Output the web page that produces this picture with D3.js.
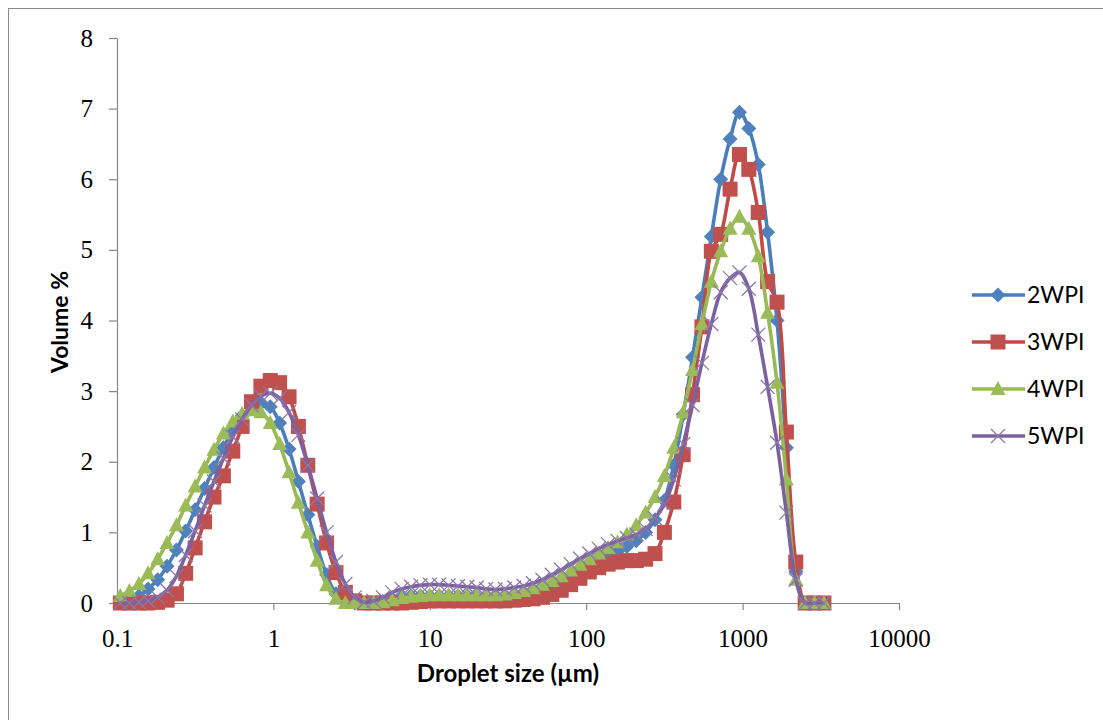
<!DOCTYPE html>
<html>
<head>
<meta charset="utf-8">
<script src="https://cdn.jsdelivr.net/npm/d3@7"></script>
<style>
  body { margin: 0; background: #ffffff; }
  svg { display: block; }
</style>
</head>
<body>
<div id="vis"></div>
<script>
// droplet size classes (µm)
const sizes = [0.105, 0.120, 0.138, 0.158, 0.182, 0.209, 0.240, 0.275, 0.316, 0.363, 0.417, 0.479, 0.550, 0.631, 0.724, 0.832, 0.955,
  1.096, 1.259, 1.445, 1.660, 1.905, 2.188, 2.512, 2.884, 3.311, 3.802, 4.365, 5.012, 5.754, 6.607, 7.586, 8.710, 10.00,
  11.48, 13.18, 15.14, 17.38, 19.95, 22.91, 26.30, 30.20, 34.67, 39.81, 45.71, 52.48, 60.26, 69.18, 79.43, 91.20, 104.7,
  120.2, 138.0, 158.5, 182.0, 208.9, 239.9, 275.4, 316.2, 363.1, 416.9, 478.6, 549.5, 631.0, 724.4, 831.8, 955.0,
  1096, 1259, 1445, 1660, 1905, 2188, 2512, 2884, 3311];

const wpi2 = [0.02, 0.05, 0.10, 0.20, 0.33, 0.52, 0.75, 1.02, 1.32, 1.62, 1.92, 2.20, 2.45, 2.65, 2.78, 2.83, 2.78,
  2.55, 2.18, 1.72, 1.25, 0.80, 0.40, 0.13, 0.02, 0, 0, 0, 0.02, 0.05, 0.08, 0.10, 0.10, 0.10,
  0.10, 0.10, 0.10, 0.10, 0.10, 0.10, 0.10, 0.10, 0.11, 0.13, 0.16, 0.20, 0.25, 0.31, 0.38, 0.45, 0.53,
  0.60, 0.67, 0.73, 0.80, 0.88, 1.00, 1.18, 1.45, 1.95, 2.67, 3.48, 4.33, 5.19, 6.00, 6.57, 6.95,
  6.72, 6.21, 5.25, 4.00, 2.20, 0.45, 0, 0, 0];

const wpi3 = [0, 0, 0, 0, 0.01, 0.04, 0.13, 0.42, 0.78, 1.15, 1.50, 1.80, 2.15, 2.50, 2.85, 3.07, 3.15,
  3.12, 2.92, 2.50, 1.95, 1.40, 0.85, 0.43, 0.15, 0.03, 0, 0, 0, 0, 0, 0.01, 0.02, 0.03,
  0.03, 0.03, 0.03, 0.03, 0.03, 0.03, 0.03, 0.03, 0.04, 0.05, 0.06, 0.08, 0.12, 0.18, 0.26, 0.35, 0.44,
  0.50, 0.55, 0.58, 0.60, 0.60, 0.62, 0.70, 1.00, 1.43, 2.10, 2.95, 3.91, 4.98, 5.22, 5.86, 6.35,
  6.14, 5.53, 4.55, 4.26, 2.42, 0.58, 0, 0, 0];

const wpi4 = [0.10, 0.17, 0.27, 0.42, 0.62, 0.85, 1.10, 1.38, 1.65, 1.92, 2.17, 2.40, 2.57, 2.68, 2.73, 2.70, 2.55,
  2.25, 1.85, 1.42, 1.00, 0.60, 0.25, 0.06, 0, 0, 0, 0, 0.01, 0.04, 0.07, 0.09, 0.10, 0.11,
  0.11, 0.11, 0.11, 0.11, 0.11, 0.11, 0.11, 0.12, 0.14, 0.17, 0.21, 0.26, 0.31, 0.38, 0.46, 0.54, 0.62,
  0.70, 0.78, 0.86, 0.97, 1.10, 1.28, 1.50, 1.80, 2.20, 2.70, 3.30, 3.95, 4.55, 4.98, 5.30, 5.47,
  5.30, 4.91, 4.11, 3.12, 1.75, 0.33, 0, 0, 0];

const wpi5 = [0, 0, 0.01, 0.03, 0.08, 0.18, 0.38, 0.68, 1.02, 1.38, 1.72, 2.05, 2.35, 2.60, 2.80, 2.93, 2.97,
  2.90, 2.70, 2.38, 1.95, 1.48, 1.00, 0.58, 0.27, 0.08, 0.01, 0.03, 0.08, 0.15, 0.20, 0.23, 0.25, 0.26,
  0.26, 0.25, 0.24, 0.23, 0.22, 0.20, 0.19, 0.20, 0.22, 0.24, 0.28, 0.33, 0.40, 0.47, 0.55, 0.63, 0.70,
  0.77, 0.83, 0.88, 0.92, 0.97, 1.05, 1.20, 1.40, 1.75, 2.25, 2.80, 3.40, 3.95, 4.40, 4.60, 4.68,
  4.45, 3.80, 3.06, 2.27, 1.28, 0.33, 0, 0, 0];

const seriesNames = ["2WPI", "3WPI", "4WPI", "5WPI"];
const xTicks = [0.1, 1, 10, 100, 1000, 10000];
const xTickLabels = ["0.1", "1", "10", "100", "1000", "10000"];
const yTicks = [0, 1, 2, 3, 4, 5, 6, 7, 8];

const series = [
  { name: seriesNames[0], values: wpi2, line: "#4A7EBB", fill: "#4F81BD", marker: "diamond" },
  { name: seriesNames[1], values: wpi3, line: "#BE4B48", fill: "#C0504D", marker: "square" },
  { name: seriesNames[2], values: wpi4, line: "#98B954", fill: "#9BBB59", marker: "triangle" },
  { name: seriesNames[3], values: wpi5, line: "#7D60A0", fill: "#8064A2", marker: "cross" }
];

const svg = d3.select("#vis").append("svg").attr("width", 1103).attr("height", 720);

// outer chart border
svg.append("rect")
  .attr("x", 8.5).attr("y", 8.5)
  .attr("width", 1110).attr("height", 730)
  .attr("fill", "#fff").attr("stroke", "#8a8a8a");

const x = d3.scaleLog().domain([0.1, 10000]).range([117, 899]);
const y = d3.scaleLinear().domain([0, 8]).range([603, 38]);

const tickFont = "'Liberation Serif', 'Times New Roman', serif";
const labelFont = "Lato, 'Open Sans', sans-serif";

const xAxis = svg.append("g")
  .attr("transform", "translate(0,603)")
  .call(d3.axisBottom(x).tickValues(xTicks).tickFormat((d, i) => xTickLabels[i]).tickSize(7).tickSizeOuter(0).tickPadding(19));

const yAxis = svg.append("g")
  .attr("transform", "translate(117,0)")
  .call(d3.axisLeft(y).tickValues(yTicks).tickFormat(d3.format("d")).tickSize(8).tickSizeOuter(0).tickPadding(16));

[xAxis, yAxis].forEach(g => {
  g.select(".domain").attr("stroke", "#868686").attr("stroke-width", 1.2);
  g.selectAll(".tick line").attr("stroke", "#868686").attr("stroke-width", 1.2);
  g.selectAll(".tick text").attr("fill", "#000").style("font-family", tickFont).style("font-size", "25px");
});

// axis titles
svg.append("text")
  .attr("x", 508).attr("y", 682)
  .attr("text-anchor", "middle")
  .style("font-family", labelFont).style("font-weight", "bold").style("font-size", "24px")
  .text("Droplet size (µm)");

svg.append("text")
  .attr("transform", "translate(68,322) rotate(-90)")
  .attr("text-anchor", "middle")
  .style("font-family", labelFont).style("font-weight", "bold").style("font-size", "23px")
  .text("Volume %");

function markerPath(type) {
  if (type === "diamond") return "M0,-7.5L7.5,0L0,7.5L-7.5,0Z";
  if (type === "square") return "M-7.5,-7.5H7.5V7.5H-7.5Z";
  if (type === "triangle") return "M0,-8L7.5,6L-7.5,6Z";
  return "M-7,-7L7,7M-7,7L7,-7";
}

function drawMarker(sel, s) {
  sel.append("path")
    .attr("d", markerPath(s.marker))
    .attr("fill", s.marker === "cross" ? "none" : s.fill)
    .attr("stroke", s.marker === "cross" ? "#8a78aa" : "none")
    .attr("stroke-width", 1.3);
}

const line = d3.line()
  .x((d, i) => x(sizes[i]))
  .y(d => y(d))
  .curve(d3.curveCatmullRom.alpha(0.5));

const plot = svg.append("g");

series.forEach(s => {
  const g = plot.append("g").attr("class", "series");
  g.append("path")
    .datum(s.values)
    .attr("d", line)
    .attr("fill", "none")
    .attr("stroke", s.line)
    .attr("stroke-width", 3.6)
    .attr("stroke-linejoin", "round");

  g.selectAll("g.pt")
    .data(s.values)
    .enter()
    .append("g")
    .attr("class", "pt")
    .attr("transform", (d, i) => `translate(${x(sizes[i])},${y(d)})`)
    .each(function () { drawMarker(d3.select(this), s); });
});

// legend
const legend = svg.append("g");
series.forEach((s, i) => {
  const ly = 295 + i * 47;
  const row = legend.append("g");
  row.append("line")
    .attr("x1", 972).attr("x2", 1025)
    .attr("y1", ly).attr("y2", ly)
    .attr("stroke", s.line).attr("stroke-width", 3.6);
  drawMarker(row.append("g").attr("transform", `translate(998,${ly})`), s);
  row.append("text")
    .attr("x", 1027).attr("y", ly)
    .attr("dy", "0.35em")
    .style("font-family", labelFont).style("font-size", "23px")
    .text(s.name);
});
</script>
</body>
</html>
